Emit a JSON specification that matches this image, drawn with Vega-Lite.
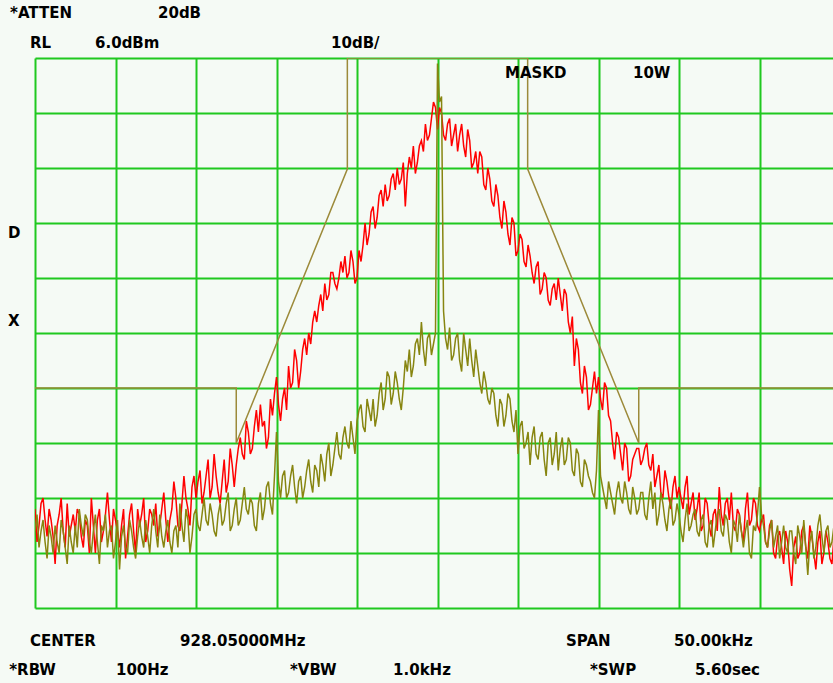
{
  "$schema": "https://vega.github.io/schema/vega-lite/v6.json",
  "width": 798,
  "height": 550,
  "autosize": {"type": "none"},
  "padding": {"left": 35, "top": 58, "right": 0, "bottom": 75},
  "background": "#f5faf5",
  "config": {"view": {"stroke": null}},
  "datasets": {
    "trace": [
      {"f":-25,"red":-76,"olive":-80},{"f":-24.75,"red":-79,"olive":-83},{"f":-24.5,"red":-74,"olive":-78},{"f":-24.25,"red":-81,"olive":-85},{"f":-24,"red":-78,"olive":-81},
      {"f":-23.75,"red":-86,"olive":-79},{"f":-23.5,"red":-77,"olive":-84},{"f":-23.25,"red":-80,"olive":-80},{"f":-23,"red":-75,"olive":-86},{"f":-22.75,"red":-79,"olive":-82},
      {"f":-22.5,"red":-80,"olive":-79},{"f":-22.25,"red":-77,"olive":-76},{"f":-22,"red":-83,"olive":-81},{"f":-21.75,"red":-79,"olive":-78},{"f":-21.5,"red":-74,"olive":-84},
      {"f":-21.25,"red":-84,"olive":-77},{"f":-21,"red":-76,"olive":-86},{"f":-20.75,"red":-80,"olive":-80},{"f":-20.5,"red":-73,"olive":-83},{"f":-20.25,"red":-82,"olive":-79},
      {"f":-20,"red":-78,"olive":-82},{"f":-19.75,"red":-83,"olive":-87},{"f":-19.5,"red":-76,"olive":-79},{"f":-19.25,"red":-81,"olive":-84},{"f":-19,"red":-75,"olive":-80},
      {"f":-18.75,"red":-84,"olive":-85},{"f":-18.5,"red":-79,"olive":-78},{"f":-18.25,"red":-74,"olive":-83},{"f":-18,"red":-80,"olive":-81},{"f":-17.75,"red":-77,"olive":-79},
      {"f":-17.5,"red":-75,"olive":-80},{"f":-17.25,"red":-79,"olive":-77},{"f":-17,"red":-73,"olive":-83},{"f":-16.75,"red":-82,"olive":-78},{"f":-16.5,"red":-76,"olive":-84},
      {"f":-16.25,"red":-74,"olive":-79},{"f":-16,"red":-80,"olive":-75},{"f":-15.75,"red":-70,"olive":-82},{"f":-15.5,"red":-76,"olive":-78},{"f":-15.25,"red":-72,"olive":-81},
      {"f":-15,"red":-74,"olive":-76},{"f":-14.75,"red":-69,"olive":-80},{"f":-14.5,"red":-73,"olive":-74},{"f":-14.25,"red":-67,"olive":-79},{"f":-14,"red":-72,"olive":-77},
      {"f":-13.75,"red":-70,"olive":-81},{"f":-13.5,"red":-75,"olive":-75},{"f":-13.25,"red":-67,"olive":-78},{"f":-13,"red":-71,"olive":-73},{"f":-12.75,"red":-68,"olive":-79},
      {"f":-12.5,"red":-68,"olive":-74},{"f":-12.25,"red":-63,"olive":-78},{"f":-12,"red":-67,"olive":-72},{"f":-11.75,"red":-62,"olive":-77},{"f":-11.5,"red":-65,"olive":-75},
      {"f":-11.25,"red":-58,"olive":-80},{"f":-11,"red":-57,"olive":-73},{"f":-10.75,"red":-60,"olive":-76},{"f":-10.5,"red":-63,"olive":-71},{"f":-10.25,"red":-59,"olive":-77},
      {"f":-10,"red":-52,"olive":-62},{"f":-9.75,"red":-60,"olive":-74},{"f":-9.5,"red":-54,"olive":-69},{"f":-9.25,"red":-50,"olive":-73},{"f":-9,"red":-53,"olive":-68},
      {"f":-8.75,"red":-49,"olive":-75},{"f":-8.5,"red":-51,"olive":-70},{"f":-8.25,"red":-45,"olive":-72},{"f":-8,"red":-44,"olive":-67},{"f":-7.75,"red":-42,"olive":-73},
      {"f":-7.5,"red":-42,"olive":-69},{"f":-7.25,"red":-37,"olive":-66},{"f":-7,"red":-35,"olive":-71},{"f":-6.75,"red":-37,"olive":-64},{"f":-6.5,"red":-33,"olive":-68},
      {"f":-6.25,"red":-36,"olive":-62},{"f":-6,"red":-31,"olive":-67},{"f":-5.75,"red":-30,"olive":-61},{"f":-5.5,"red":-33,"olive":-65},{"f":-5.25,"red":-31,"olive":-63},
      {"f":-5,"red":-34,"olive":-60},{"f":-4.75,"red":-31,"olive":-57},{"f":-4.5,"red":-24,"olive":-62},{"f":-4.25,"red":-26,"olive":-58},{"f":-4,"red":-21,"olive":-56},
      {"f":-3.75,"red":-23,"olive":-59},{"f":-3.5,"red":-18,"olive":-53},{"f":-3.25,"red":-17,"olive":-56},{"f":-3,"red":-19,"olive":-52},{"f":-2.75,"red":-15,"olive":-55},
      {"f":-2.5,"red":-14,"olive":-53},{"f":-2.25,"red":-16,"olive":-58},{"f":-2,"red":-21,"olive":-49},{"f":-1.75,"red":-12,"olive":-47},{"f":-1.5,"red":-10,"olive":-50},
      {"f":-1.25,"red":-13,"olive":-45},{"f":-1,"red":-9,"olive":-42},{"f":-0.75,"red":-6,"olive":-50},{"f":-0.5,"red":-8,"olive":-44},{"f":-0.25,"red":-2,"olive":-46},
      {"f":0,"red":-7,"olive":5},{"f":0.25,"red":-4,"olive":-1},{"f":0.5,"red":-9,"olive":-45},{"f":0.75,"red":-5,"olive":-43},{"f":1,"red":-8,"olive":-48},
      {"f":1.25,"red":-11,"olive":-44},{"f":1.5,"red":-6,"olive":-51},{"f":1.75,"red":-12,"olive":-47},{"f":2,"red":-9,"olive":-45},{"f":2.25,"red":-13,"olive":-52},
      {"f":2.5,"red":-15,"olive":-50},{"f":2.75,"red":-12,"olive":-55},{"f":3,"red":-18,"olive":-53},{"f":3.25,"red":-16,"olive":-57},{"f":3.5,"red":-21,"olive":-55},
      {"f":3.75,"red":-19,"olive":-61},{"f":4,"red":-25,"olive":-57},{"f":4.25,"red":-22,"olive":-59},{"f":4.5,"red":-28,"olive":-56},{"f":4.75,"red":-24,"olive":-62},
      {"f":5,"red":-29,"olive":-66},{"f":5.25,"red":-27,"olive":-60},{"f":5.5,"red":-32,"olive":-64},{"f":5.75,"red":-30,"olive":-68},{"f":6,"red":-35,"olive":-61},
      {"f":6.25,"red":-31,"olive":-67},{"f":6.5,"red":-36,"olive":-62},{"f":6.75,"red":-34,"olive":-70},{"f":7,"red":-39,"olive":-63},{"f":7.25,"red":-35,"olive":-66},
      {"f":7.5,"red":-34,"olive":-69},{"f":7.75,"red":-40,"olive":-63},{"f":8,"red":-37,"olive":-67},{"f":8.25,"red":-44,"olive":-64},{"f":8.5,"red":-50,"olive":-70},
      {"f":8.75,"red":-47,"olive":-66},{"f":9,"red":-55,"olive":-72},{"f":9.25,"red":-52,"olive":-68},{"f":9.5,"red":-57,"olive":-71},{"f":9.75,"red":-51,"olive":-74},
      {"f":10,"red":-52,"olive":-58},{"f":10.25,"red":-58,"olive":-72},{"f":10.5,"red":-54,"olive":-76},{"f":10.75,"red":-60,"olive":-73},{"f":11,"red":-67,"olive":-77},
      {"f":11.25,"red":-63,"olive":-71},{"f":11.5,"red":-69,"olive":-75},{"f":11.75,"red":-65,"olive":-73},{"f":12,"red":-70,"olive":-77},{"f":12.25,"red":-66,"olive":-74},
      {"f":12.5,"red":-65,"olive":-76},{"f":12.75,"red":-67,"olive":-73},{"f":13,"red":-64,"olive":-78},{"f":13.25,"red":-69,"olive":-71},{"f":13.5,"red":-72,"olive":-73},
      {"f":13.75,"red":-68,"olive":-77},{"f":14,"red":-74,"olive":-75},{"f":14.25,"red":-71,"olive":-80},{"f":14.5,"red":-76,"olive":-74},{"f":14.75,"red":-70,"olive":-78},
      {"f":15,"red":-72,"olive":-77},{"f":15.25,"red":-76,"olive":-82},{"f":15.5,"red":-70,"olive":-75},{"f":15.75,"red":-75,"olive":-79},{"f":16,"red":-78,"olive":-76},
      {"f":16.25,"red":-73,"olive":-81},{"f":16.5,"red":-79,"olive":-77},{"f":16.75,"red":-75,"olive":-83},{"f":17,"red":-81,"olive":-78},{"f":17.25,"red":-76,"olive":-80},
      {"f":17.5,"red":-72,"olive":-76},{"f":17.75,"red":-79,"olive":-81},{"f":18,"red":-74,"olive":-78},{"f":18.25,"red":-73,"olive":-84},{"f":18.5,"red":-80,"olive":-79},
      {"f":18.75,"red":-77,"olive":-77},{"f":19,"red":-82,"olive":-83},{"f":19.25,"red":-73,"olive":-78},{"f":19.5,"red":-78,"olive":-85},{"f":19.75,"red":-75,"olive":-80},
      {"f":20,"red":-80,"olive":-72},{"f":20.25,"red":-77,"olive":-79},{"f":20.5,"red":-83,"olive":-83},{"f":20.75,"red":-78,"olive":-78},{"f":21,"red":-85,"olive":-81},
      {"f":21.25,"red":-80,"olive":-85},{"f":21.5,"red":-86,"olive":-79},{"f":21.75,"red":-82,"olive":-84},{"f":22,"red":-90,"olive":-80},{"f":22.25,"red":-81,"olive":-86},
      {"f":22.5,"red":-84,"olive":-81},{"f":22.75,"red":-79,"olive":-78},{"f":23,"red":-85,"olive":-88},{"f":23.25,"red":-81,"olive":-80},{"f":23.5,"red":-87,"olive":-83},
      {"f":23.75,"red":-80,"olive":-77},{"f":24,"red":-84,"olive":-84},{"f":24.25,"red":-82,"olive":-79},{"f":24.5,"red":-86,"olive":-82},{"f":24.75,"red":-80,"olive":-80},
      {"f":25,"red":-83,"olive":-81},
      {"f":-24.875,"red":-82,"olive":-77},{"f":-24.625,"red":-75,"olive":-80},{"f":-24.375,"red":-78,"olive":-82},{"f":-24.125,"red":-76,"olive":-79},{"f":-23.875,"red":-81,"olive":-84},
      {"f":-23.625,"red":-79,"olive":-82},{"f":-23.375,"red":-74,"olive":-78},{"f":-23.125,"red":-83,"olive":-83},{"f":-22.875,"red":-81,"olive":-79},{"f":-22.625,"red":-77,"olive":-84},
      {"f":-22.375,"red":-76,"olive":-83},{"f":-22.125,"red":-81,"olive":-79},{"f":-21.875,"red":-78,"olive":-77},{"f":-21.625,"red":-84,"olive":-82},{"f":-21.375,"red":-79,"olive":-80},
      {"f":-21.125,"red":-78,"olive":-82},{"f":-20.875,"red":-82,"olive":-79},{"f":-20.625,"red":-77,"olive":-77},{"f":-20.375,"red":-78,"olive":-80},{"f":-20.125,"red":-76,"olive":-85},
      {"f":-19.875,"red":-80,"olive":-78},{"f":-19.625,"red":-79,"olive":-81},{"f":-19.375,"red":-85,"olive":-83},{"f":-19.125,"red":-77,"olive":-78},{"f":-18.875,"red":-80,"olive":-83},
      {"f":-18.625,"red":-76,"olive":-81},{"f":-18.375,"red":-77,"olive":-81},{"f":-18.125,"red":-82,"olive":-78},{"f":-17.875,"red":-76,"olive":-84},{"f":-17.625,"red":-79,"olive":-76},
      {"f":-17.375,"red":-81,"olive":-83},{"f":-17.125,"red":-76,"olive":-81},{"f":-16.875,"red":-78,"olive":-80},{"f":-16.625,"red":-78,"olive":-82},{"f":-16.375,"red":-71,"olive":-80},
      {"f":-16.125,"red":-79,"olive":-83},{"f":-15.875,"red":-75,"olive":-79},{"f":-15.625,"red":-74,"olive":-76},{"f":-15.375,"red":-79,"olive":-84},{"f":-15.125,"red":-70,"olive":-77},
      {"f":-14.875,"red":-71,"olive":-79},{"f":-14.625,"red":-75,"olive":-77},{"f":-14.375,"red":-70,"olive":-78},{"f":-14.125,"red":-74,"olive":-75},{"f":-13.875,"red":-66,"olive":-80},
      {"f":-13.625,"red":-73,"olive":-77},{"f":-13.375,"red":-71,"olive":-79},{"f":-13.125,"red":-73,"olive":-75},{"f":-12.875,"red":-65,"olive":-80},{"f":-12.625,"red":-72,"olive":-76},
      {"f":-12.375,"red":-65,"olive":-79},{"f":-12.125,"red":-66,"olive":-75},{"f":-11.875,"red":-60,"olive":-76},{"f":-11.625,"red":-66,"olive":-74},{"f":-11.375,"red":-61,"olive":-79},
      {"f":-11.125,"red":-62,"olive":-75},{"f":-10.875,"red":-61,"olive":-78},{"f":-10.625,"red":-65,"olive":-72},{"f":-10.375,"red":-56,"olive":-75},{"f":-10.125,"red":-55,"olive":-70},
      {"f":-9.875,"red":-57,"olive":-71},{"f":-9.625,"red":-56,"olive":-70},{"f":-9.375,"red":-58,"olive":-74},{"f":-9.125,"red":-54,"olive":-70},{"f":-8.875,"red":-47,"olive":-72},
      {"f":-8.625,"red":-54,"olive":-71},{"f":-8.375,"red":-47,"olive":-74},{"f":-8.125,"red":-48,"olive":-69},{"f":-7.875,"red":-46,"olive":-71},{"f":-7.625,"red":-40,"olive":-68},
      {"f":-7.375,"red":-39,"olive":-72},{"f":-7.125,"red":-40,"olive":-68},{"f":-6.875,"red":-38,"olive":-66},{"f":-6.625,"red":-33,"olive":-70},{"f":-6.375,"red":-35,"olive":-65},
      {"f":-6.125,"red":-34,"olive":-66},{"f":-5.875,"red":-33,"olive":-63},{"f":-5.625,"red":-34,"olive":-64},{"f":-5.375,"red":-29,"olive":-60},{"f":-5.125,"red":-35,"olive":-66},
      {"f":-4.875,"red":-29,"olive":-58},{"f":-4.625,"red":-28,"olive":-61},{"f":-4.375,"red":-28,"olive":-56},{"f":-4.125,"red":-22,"olive":-60},{"f":-3.875,"red":-25,"olive":-61},
      {"f":-3.625,"red":-19,"olive":-55},{"f":-3.375,"red":-21,"olive":-58},{"f":-3.125,"red":-20,"olive":-51},{"f":-2.875,"red":-16,"olive":-57},{"f":-2.625,"red":-18,"olive":-51},
      {"f":-2.375,"red":-17,"olive":-56},{"f":-2.125,"red":-13,"olive":-54},{"f":-1.875,"red":-15,"olive":-51},{"f":-1.625,"red":-14,"olive":-52},{"f":-1.375,"red":-15,"olive":-46},
      {"f":-1.125,"red":-10,"olive":-48},{"f":-0.875,"red":-11,"olive":-47},{"f":-0.625,"red":-9,"olive":-45},{"f":-0.375,"red":-5,"olive":-48},{"f":-0.125,"red":-3,"olive":-44},
      {"f":0.125,"red":-3,"olive":-2},{"f":0.375,"red":-8,"olive":-40},{"f":0.625,"red":-6,"olive":-47},{"f":0.875,"red":-10,"olive":-49},{"f":1.125,"red":-6,"olive":-45},
      {"f":1.375,"red":-8,"olive":-49},{"f":1.625,"red":-10,"olive":-44},{"f":1.875,"red":-7,"olive":-50},{"f":2.125,"red":-14,"olive":-49},{"f":2.375,"red":-11,"olive":-47},
      {"f":2.625,"red":-11,"olive":-53},{"f":2.875,"red":-17,"olive":-51},{"f":3.125,"red":-14,"olive":-56},{"f":3.375,"red":-20,"olive":-54},{"f":3.625,"red":-17,"olive":-59},
      {"f":3.875,"red":-23,"olive":-56},{"f":4.125,"red":-20,"olive":-61},{"f":4.375,"red":-26,"olive":-55},{"f":4.625,"red":-23,"olive":-60},{"f":4.875,"red":-30,"olive":-58},
      {"f":5.125,"red":-26,"olive":-61},{"f":5.375,"red":-31,"olive":-65},{"f":5.625,"red":-28,"olive":-62},{"f":5.875,"red":-33,"olive":-63},{"f":6.125,"red":-32,"olive":-66},
      {"f":6.375,"red":-37,"olive":-63},{"f":6.625,"red":-33,"olive":-67},{"f":6.875,"red":-38,"olive":-64},{"f":7.125,"red":-36,"olive":-68},{"f":7.375,"red":-38,"olive":-62},
      {"f":7.625,"red":-37,"olive":-65},{"f":7.875,"red":-36,"olive":-68},{"f":8.125,"red":-42,"olive":-63},{"f":8.375,"red":-41,"olive":-69},{"f":8.625,"red":-45,"olive":-65},
      {"f":8.875,"red":-53,"olive":-71},{"f":9.125,"red":-50,"olive":-67},{"f":9.375,"red":-58,"olive":-70},{"f":9.625,"red":-54,"olive":-73},{"f":9.875,"red":-55,"olive":-69},
      {"f":10.125,"red":-56,"olive":-70},{"f":10.375,"red":-53,"olive":-74},{"f":10.625,"red":-59,"olive":-71},{"f":10.875,"red":-64,"olive":-75},{"f":11.125,"red":-62,"olive":-73},
      {"f":11.375,"red":-66,"olive":-74},{"f":11.625,"red":-64,"olive":-71},{"f":11.875,"red":-71,"olive":-76},{"f":12.125,"red":-67,"olive":-72},{"f":12.375,"red":-65,"olive":-77},
      {"f":12.625,"red":-68,"olive":-73},{"f":12.875,"red":-65,"olive":-77},{"f":13.125,"red":-68,"olive":-74},{"f":13.375,"red":-66,"olive":-76},{"f":13.625,"red":-70,"olive":-79},
      {"f":13.875,"red":-73,"olive":-73},{"f":14.125,"red":-69,"olive":-78},{"f":14.375,"red":-74,"olive":-76},{"f":14.625,"red":-72,"olive":-79},{"f":14.875,"red":-74,"olive":-75},
      {"f":15.125,"red":-74,"olive":-80},{"f":15.375,"red":-72,"olive":-78},{"f":15.625,"red":-77,"olive":-80},{"f":15.875,"red":-73,"olive":-77},{"f":16.125,"red":-76,"olive":-80},
      {"f":16.375,"red":-80,"olive":-78},{"f":16.625,"red":-74,"olive":-82},{"f":16.875,"red":-79,"olive":-79},{"f":17.125,"red":-77,"olive":-83},{"f":17.375,"red":-80,"olive":-77},
      {"f":17.625,"red":-77,"olive":-80},{"f":17.875,"red":-75,"olive":-77},{"f":18.125,"red":-78,"olive":-82},{"f":18.375,"red":-79,"olive":-78},{"f":18.625,"red":-76,"olive":-82},
      {"f":18.875,"red":-80,"olive":-80},{"f":19.125,"red":-76,"olive":-80},{"f":19.375,"red":-79,"olive":-84},{"f":19.625,"red":-74,"olive":-79},{"f":19.875,"red":-79,"olive":-77},
      {"f":20.125,"red":-78,"olive":-77},{"f":20.375,"red":-82,"olive":-82},{"f":20.625,"red":-79,"olive":-80},{"f":20.875,"red":-84,"olive":-83},{"f":21.125,"red":-81,"olive":-79},
      {"f":21.375,"red":-83,"olive":-82},{"f":21.625,"red":-80,"olive":-83},{"f":21.875,"red":-87,"olive":-80},{"f":22.125,"red":-83,"olive":-84},{"f":22.375,"red":-85,"olive":-79},
      {"f":22.625,"red":-80,"olive":-84},{"f":22.875,"red":-83,"olive":-83},{"f":23.125,"red":-79,"olive":-82},{"f":23.375,"red":-84,"olive":-85},{"f":23.625,"red":-82,"olive":-79},
      {"f":23.875,"red":-86,"olive":-81},{"f":24.125,"red":-80,"olive":-80},{"f":24.375,"red":-85,"olive":-83},{"f":24.625,"red":-81,"olive":-79},{"f":24.875,"red":-85,"olive":-84}
    ],
    "mask": [
      {"k":0,"f":-25,"db":-54},{"k":1,"f":-12.5,"db":-54},{"k":2,"f":-12.5,"db":-64},{"k":3,"f":-5.6,"db":-14.2},{"k":4,"f":-5.6,"db":6},
      {"k":5,"f":5.6,"db":6},{"k":6,"f":5.6,"db":-14.2},{"k":7,"f":12.5,"db":-64},{"k":8,"f":12.5,"db":-54},{"k":9,"f":25,"db":-54}
    ],
    "labels": [
      {"t":"*ATTEN","f":-26.55,"db":14.2},
      {"t":"20dB","f":-17.36,"db":14.2},
      {"t":"RL","f":-25.31,"db":8.73},
      {"t":"6.0dBm","f":-21.27,"db":8.73},
      {"t":"10dB/","f":-6.61,"db":8.73},
      {"t":"MASKD","f":4.19,"db":3.27},
      {"t":"10W","f":12.14,"db":3.27},
      {"t":"D","f":-26.68,"db":-25.8},
      {"t":"X","f":-26.68,"db":-41.8},
      {"t":"CENTER","f":-25.31,"db":-100},
      {"t":"928.05000MHz","f":-15.99,"db":-100},
      {"t":"SPAN","f":7.98,"db":-100},
      {"t":"50.00kHz","f":14.69,"db":-100},
      {"t":"*RBW","f":-26.6,"db":-105.3},
      {"t":"100Hz","f":-19.97,"db":-105.3},
      {"t":"*VBW","f":-9.16,"db":-105.3},
      {"t":"1.0kHz","f":-2.76,"db":-105.3},
      {"t":"*SWP","f":9.47,"db":-105.3},
      {"t":"5.60sec","f":15.99,"db":-105.3}
    ]
  },
  "layer": [
    {
      "data": {"name": "trace"},
      "transform": [{"fold": ["red", "olive"], "as": ["series", "dBm"]}],
      "mark": {"type": "line", "clip": true, "strokeWidth": 1.5},
      "encoding": {
        "x": {"field": "f", "type": "quantitative",
              "scale": {"domain": [-25, 24.565], "nice": false, "zero": false},
              "axis": {"values": [-25,-20,-15,-10,-5,0,5,10,15,20], "grid": true, "gridColor": "#1fc81f", "gridWidth": 2, "gridOpacity": 1,
                       "labels": false, "ticks": false, "domain": false, "title": null}},
        "y": {"field": "dBm", "type": "quantitative",
              "scale": {"domain": [-94, 6], "nice": false, "zero": false},
              "axis": {"values": [6,-4,-14,-24,-34,-44,-54,-64,-74,-84,-94], "grid": true, "gridColor": "#1fc81f", "gridWidth": 2, "gridOpacity": 1,
                       "labels": false, "ticks": false, "domain": false, "title": null}},
        "color": {"field": "series", "type": "nominal",
                  "scale": {"domain": ["red", "olive"], "range": ["#ff0000", "#878510"]}, "legend": null}
      }
    },
    {
      "data": {"name": "mask"},
      "mark": {"type": "line", "clip": true, "strokeWidth": 1.5, "color": "#9c8a3a"},
      "encoding": {
        "x": {"field": "f", "type": "quantitative"},
        "y": {"field": "db", "type": "quantitative"},
        "order": {"field": "k", "type": "quantitative"}
      }
    },
    {
      "data": {"name": "labels"},
      "mark": {"type": "text", "align": "left", "baseline": "middle", "font": "DejaVu Sans", "fontWeight": "bold", "fontSize": 15, "color": "#000000"},
      "encoding": {
        "x": {"field": "f", "type": "quantitative"},
        "y": {"field": "db", "type": "quantitative"},
        "text": {"field": "t"}
      }
    }
  ]
}
